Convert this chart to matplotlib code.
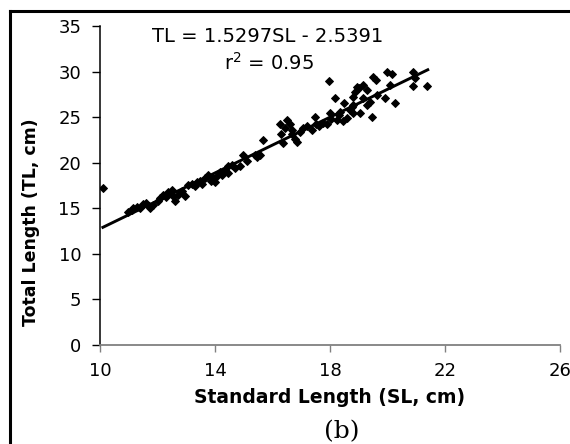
import matplotlib
matplotlib.use("Agg")
import matplotlib.pyplot as plt
from matplotlib.lines import Line2D
import numpy as np

# Data
sl = [10.11, 10.98, 11.10, 11.15, 11.28, 11.40, 11.50, 11.60, 11.70, 11.74,
      11.85, 12.00, 12.10, 12.20, 12.30, 12.37, 12.50, 12.55, 12.60, 12.70,
      12.85, 12.96, 13.07, 13.20, 13.30, 13.36, 13.48, 13.55, 13.65, 13.76,
      13.85, 13.93, 14.00, 14.06, 14.17, 14.25, 14.35, 14.45, 14.45, 14.58,
      14.70, 14.87, 14.97, 15.10, 15.40, 15.45, 15.57, 15.67,
      16.26, 16.30, 16.37, 16.45, 16.50, 16.60, 16.67, 16.68, 16.78, 16.84,
      16.96, 17.05, 17.20, 17.36, 17.48, 17.50, 17.60, 17.75, 17.90, 17.97,
      18.00, 18.05, 18.17, 18.23, 18.30, 18.35, 18.45, 18.50, 18.60, 18.70,
      18.75, 18.80, 18.80, 18.80, 18.87, 18.93, 19.00, 19.04, 19.15, 19.15,
      19.30, 19.30, 19.40, 19.45, 19.50, 19.60, 19.65, 19.90, 19.97, 20.10,
      20.14, 20.26, 20.90, 20.96, 20.90, 21.36]
tl = [17.2, 14.6, 14.8, 15.0, 15.1, 15.0, 15.5, 15.6, 15.2, 15.0,
      15.4, 15.8, 16.1, 16.5, 16.2, 16.8, 17.0, 16.3, 15.8, 16.5,
      16.9, 16.4, 17.5, 17.7, 17.4, 17.9, 18.0, 17.7, 18.3, 18.6,
      18.0, 18.3, 17.9, 18.5, 19.0, 18.6, 19.2, 19.6, 18.9, 19.8,
      19.4, 19.6, 20.9, 20.2, 20.9, 20.6, 20.8, 22.5,
      24.3, 23.2, 22.2, 23.8, 24.7, 24.3, 23.6, 23.2, 22.6, 22.3,
      23.4, 23.8, 24.0, 23.6, 25.0, 24.3, 24.0, 24.4, 24.3, 29.0,
      25.4, 24.8, 27.1, 24.7, 25.2, 25.6, 24.6, 26.5, 24.9, 25.8,
      26.1, 25.4, 26.3, 27.2, 27.8, 28.3, 28.2, 25.4, 28.5, 27.1,
      28.0, 26.3, 26.7, 25.0, 29.4, 29.1, 27.4, 27.1, 30.0, 28.5,
      29.7, 26.6, 30.0, 29.3, 28.4, 28.4]

slope = 1.5297
intercept = -2.5391
fit_x = [10.1, 21.4]

x_ticks = [10, 14, 18, 22, 26]
y_ticks = [0, 5, 10, 15, 20, 25, 30, 35]

W, H = 570, 444
fig = plt.figure(figsize=(W / 100, H / 100), dpi=100)
ax = fig.add_axes([100 / W, 1 - 345 / H, 460 / W, 319 / H])

ax.plot(sl, tl, linestyle='none', marker='D', markersize=4.3,
        color='black', markeredgewidth=0.7)
fx = np.array(fit_x)
ax.plot(fx, slope * fx + intercept, color='black', linewidth=2.1)

ax.set_xlim(10, 26)
ax.set_ylim(0, 35)
ax.set_xticks(x_ticks)
ax.set_yticks(y_ticks)
ax.set_xticklabels([str(t) for t in x_ticks])
ax.set_yticklabels([str(t) for t in y_ticks])

for s in ['top', 'right']:
    ax.spines[s].set_visible(False)
ax.spines['left'].set_color('black')
ax.spines['left'].set_linewidth(1.1)
ax.spines['bottom'].set_color('#808080')
ax.spines['bottom'].set_linewidth(1.3)

ax.tick_params(axis='y', direction='out', length=5.5, width=1.0, color='black',
               labelsize=13, pad=8)
ax.tick_params(axis='x', direction='out', length=5, width=1.0, color='#808080',
               labelsize=13, pad=7)

ax.set_xlabel('Standard Length (SL, cm)', fontsize=13.5, fontweight='bold',
              labelpad=4)
ax.set_ylabel('Total Length (TL, cm)', fontsize=12.5, fontweight='bold')
ax.yaxis.set_label_coords(31 / W, 0.5, transform=fig.transFigure)
ax.xaxis.set_label_coords(330 / W, 1 - 397 / H, transform=fig.transFigure)
ax.xaxis.label.set_va('center')
ax.yaxis.label.set_va('center')

fig.text(268 / W, 1 - 42 / H, 'TL = 1.5297SL - 2.5391', fontsize=14,
         ha='center', va='baseline')
fig.text(269 / W, 1 - 70 / H, 'r$^2$ = 0.95', fontsize=14,
         ha='center', va='baseline')

fig.text(342 / W, 1 - 432 / H, '(b)', fontsize=18, family='DejaVu Serif',
         ha='center', va='center')

# outer frame (left and top edges)
fig.add_artist(Line2D([10.5 / W, 10.5 / W], [0, 1 - 11 / H],
                      transform=fig.transFigure, color='black', linewidth=2.2))
fig.add_artist(Line2D([10.5 / W, 1], [1 - 11 / H, 1 - 11 / H],
                      transform=fig.transFigure, color='black', linewidth=2.2))

fig.savefig('out.png', dpi=100)
